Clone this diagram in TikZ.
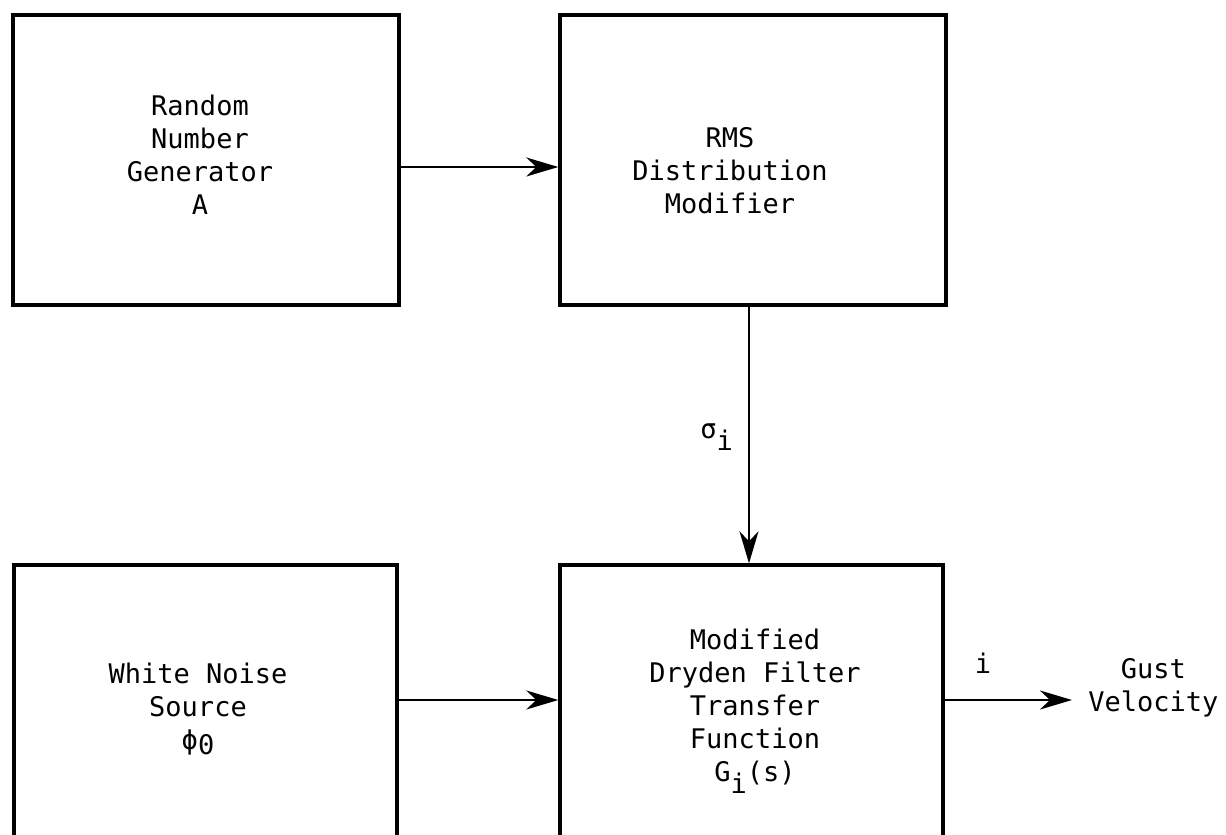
\documentclass[tikz,border=0pt]{standalone}
\usepackage{fontspec}
\setmonofont{DejaVu Sans Mono}
\usetikzlibrary{arrows.meta}
\begin{document}
\begin{tikzpicture}[x=0.5pt,y=-0.5pt,
  blk/.style={draw, line width=1.7pt, inner sep=0pt, minimum width=193pt},
  txt/.style={font=\ttfamily\fontsize{13.5}{16.5}\selectfont, align=center, inner sep=0pt},
  arr/.style={line width=1.2pt, -{Stealth[length=16pt,width=9.5pt,inset=5pt]}}]
\useasboundingbox (0,0) rectangle (1226,835);
\clip (0,0) rectangle (1226,835);
% blocks
\node[blk, minimum height=145pt] (b1) at (206,160) {};
\node[blk, minimum height=145pt] (b2) at (753,160) {};
\node[blk, minimum height=170pt, minimum width=191.5pt] (b3) at (205.5,735) {};
\node[blk, minimum height=170pt, minimum width=191.5pt] (b4) at (751.5,735) {};
% block texts
\node[txt, anchor=north] (t1) at (200,94.5) {Random\\Number\\Generator\\A};
\node[txt, anchor=north] (t2) at (730,127) {RMS\\Distribution\\Modifier};
\node[txt, anchor=north] (t3) at (198,662.5) {White Noise\\Source\\ϕ\raisebox{-0.2em}{0}};
\node[txt, anchor=north] (t4) at (755,628.5) {Modified\\Dryden Filter\\Transfer\\Function\\G\raisebox{-0.45em}{i}(s)};
% labels
\node[txt, anchor=base west] (ls) at (700,438) {σ\raisebox{-0.45em}{i}};
\node[txt, anchor=base] (li) at (983,673) {i};
\node[txt, anchor=north west] (gv) at (1088,658) {Gust\\Velocity};
% connectors
\coordinate (r1) at (0,167);
\coordinate (r2) at (0,700);
\coordinate (cx) at (749,0);
\draw[arr] (b1.east |- r1) -- (b2.west |- r1);
\draw[arr] (b2.south -| cx) -- (b4.north -| cx);
\draw[arr] (b3.east |- r2) -- (b4.west |- r2);
\draw[arr, shorten >=8pt] (b4.east |- r2) -- (gv.west |- r2);
\end{tikzpicture}
\end{document}
